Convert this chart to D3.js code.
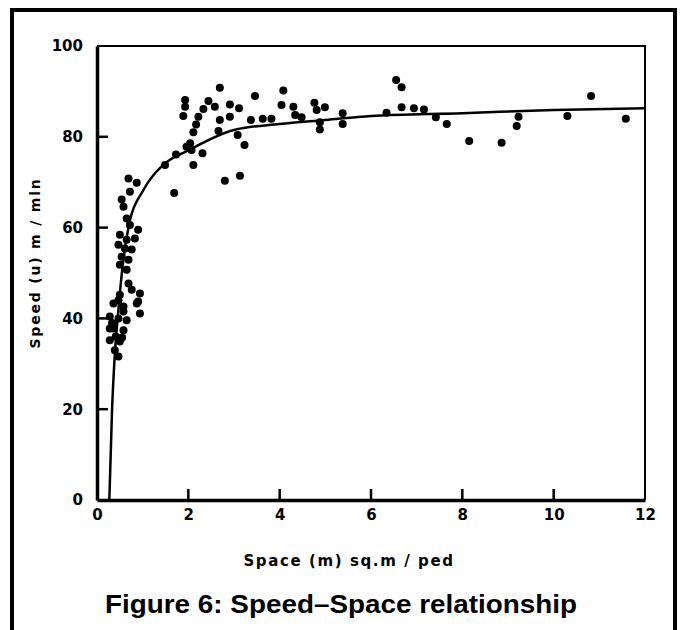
<!DOCTYPE html>
<html>
<head>
<meta charset="utf-8">
<script src="https://cdn.jsdelivr.net/npm/d3@7"></script>
<style>
  body { margin: 0; background: #fff; }
  svg { display: block; }
</style>
</head>
<body>
<div id="chart"></div>
<script>
// DATA
const space = [0.69, 0.87, 0.72, 0.54, 0.58, 0.65, 0.72, 0.9, 0.5, 0.65, 0.83, 0.47, 0.61, 0.76,
  0.54, 0.69, 0.5, 0.65, 0.69, 0.76, 0.94, 0.9, 0.94, 0.5, 0.36, 0.47, 0.58, 0.87, 0.28, 0.47,
  0.65, 0.58, 0.36, 0.58, 0.28, 0.5, 0.39, 0.47, 0.28, 0.41, 0.55, 0.33,
  1.49, 1.69, 1.73, 1.93, 1.93, 1.89, 1.96, 2.04, 2.07, 2.11, 2.11, 2.17, 2.22, 2.31, 2.33, 2.44,
  2.58, 2.66, 2.69, 2.69, 2.8, 2.91, 2.91, 3.08, 3.11, 3.13, 3.23, 3.37, 3.46, 3.63, 3.82, 4.04,
  4.08, 4.3, 4.34, 4.48, 4.76, 4.81, 4.88, 4.88, 4.99, 5.38, 5.38, 6.34, 6.55, 6.67, 6.67, 6.94,
  7.16, 7.42, 7.66, 8.15, 8.86, 9.23, 9.19, 10.3, 10.82, 11.58];
const speed = [70.8, 69.9, 67.9, 66.2, 64.6, 62, 60.6, 59.5, 58.4, 57.3, 57.6, 56.2, 55.4, 55.2,
  53.6, 52.9, 51.8, 50.7, 47.7, 46.3, 45.5, 43.7, 41.1, 45.2, 43.3, 44, 42.6, 43.3, 40.4, 40,
  39.6, 41.5, 37.8, 37.4, 35.2, 34.9, 33, 31.6, 37.8, 36, 35.8, 39,
  73.8, 67.6, 76.1, 88.1, 86.6, 84.6, 77.8, 78.6, 77.1, 81, 73.8, 82.7, 84.4, 76.4, 86.1, 87.9,
  86.6, 81.3, 90.8, 83.7, 70.3, 87.1, 84.4, 80.4, 86.3, 71.4, 78.2, 83.7, 89, 84, 84, 87,
  90.2, 86.6, 84.8, 84.3, 87.5, 85.9, 83.2, 81.6, 86.5, 85.2, 82.8, 85.3, 92.5, 90.9, 86.5, 86.3,
  86, 84.3, 82.8, 79.1, 78.7, 84.4, 82.4, 84.6, 89, 84];

// fitted curve, points
const fitSpace = [0.27, 0.33, 0.39, 0.47, 0.55, 0.72, 1.0, 1.45, 2, 3, 4, 5, 6, 8, 10, 12];
const fitSpeed = [0, 20, 32, 42, 50.5, 61.5, 68, 73.8, 77, 81.5, 82.8, 83.7, 84.6, 85.2, 85.9, 86.3];

const xTicks = [0, 2, 4, 6, 8, 10, 12];
const yTicks = [0, 20, 40, 60, 80, 100];

const width = 680, height = 630;

const svg = d3.select("#chart").append("svg")
  .attr("width", width)
  .attr("height", height);

// outer frame
svg.append("rect")
  .attr("x", 12).attr("y", 10)
  .attr("width", 663).attr("height", 640)
  .attr("fill", "none")
  .attr("stroke", "#000")
  .attr("stroke-width", 4);

// SCALES
const x = d3.scaleLinear().domain([0, 12]).range([97, 645]);
const y = d3.scaleLinear().domain([0, 100]).range([500, 46]);

// box top + right
svg.append("path")
  .attr("d", `M${x(0)},${y(100)}H${x(12)}V${y(0)}`)
  .attr("fill", "none")
  .attr("stroke", "#000")
  .attr("stroke-width", 2);

// AXES (labels from d3 axis, inward ticks drawn below)
const tickFont = "DejaVu Sans, sans-serif";
const yAxis = svg.append("g")
  .attr("transform", `translate(${x(0)},0)`)
  .call(d3.axisLeft(y).tickValues(yTicks).tickSize(0).tickPadding(14));
const xAxis = svg.append("g")
  .attr("transform", `translate(0,${y(0)})`)
  .call(d3.axisBottom(x).tickValues(xTicks).tickSize(0).tickPadding(9));

[xAxis, yAxis].forEach(g => {
  g.select(".domain").attr("stroke", "#000").attr("stroke-width", 3.5);
  g.selectAll(".tick text")
    .attr("font-family", tickFont)
    .attr("font-weight", "bold")
    .attr("font-size", 15)
    .attr("fill", "#000");
});

const ticks = svg.append("g").attr("stroke", "#000").attr("stroke-width", 2.5);
ticks.selectAll("line.yt")
  .data(yTicks.slice(1, -1))
  .join("line")
  .attr("class", "yt")
  .attr("x1", x(0)).attr("x2", x(0) + 11)
  .attr("y1", d => y(d)).attr("y2", d => y(d));
ticks.selectAll("line.xt")
  .data(xTicks.slice(1, -1))
  .join("line")
  .attr("class", "xt")
  .attr("x1", d => x(d)).attr("x2", d => x(d))
  .attr("y1", y(0)).attr("y2", y(0) - 11);

// FIT LINE
const line = d3.line()
  .x((d, i) => x(fitSpace[i]))
  .y((d, i) => y(fitSpeed[i]))
  .curve(d3.curveMonotoneX);

svg.append("path")
  .datum(fitSpace)
  .attr("d", line)
  .attr("fill", "none")
  .attr("stroke", "#000")
  .attr("stroke-width", 2.5);

// POINTS
svg.append("g").selectAll("circle")
  .data(space)
  .join("circle")
  .attr("cx", d => x(d))
  .attr("cy", (d, i) => y(speed[i]))
  .attr("r", 4)
  .attr("fill", "#000");

// LABELS
svg.append("text")
  .attr("transform", "translate(40,263) rotate(-90)")
  .attr("text-anchor", "middle")
  .attr("font-family", tickFont)
  .attr("font-weight", "bold")
  .attr("font-size", 14)
  .attr("letter-spacing", 1.8)
  .text("Speed (u) m / mln");

svg.append("text")
  .attr("x", 349)
  .attr("y", 566)
  .attr("text-anchor", "middle")
  .attr("font-family", tickFont)
  .attr("font-weight", "bold")
  .attr("font-size", 15)
  .attr("letter-spacing", 1.6)
  .text("Space (m) sq.m / ped");

svg.append("text")
  .attr("x", 341)
  .attr("y", 613)
  .attr("text-anchor", "middle")
  .attr("font-family", "Liberation Sans, Arial, sans-serif")
  .attr("font-weight", "bold")
  .attr("font-size", 26)
  .attr("textLength", 472)
  .attr("lengthAdjust", "spacingAndGlyphs")
  .text("Figure 6: Speed–Space relationship");
</script>
</body>
</html>
